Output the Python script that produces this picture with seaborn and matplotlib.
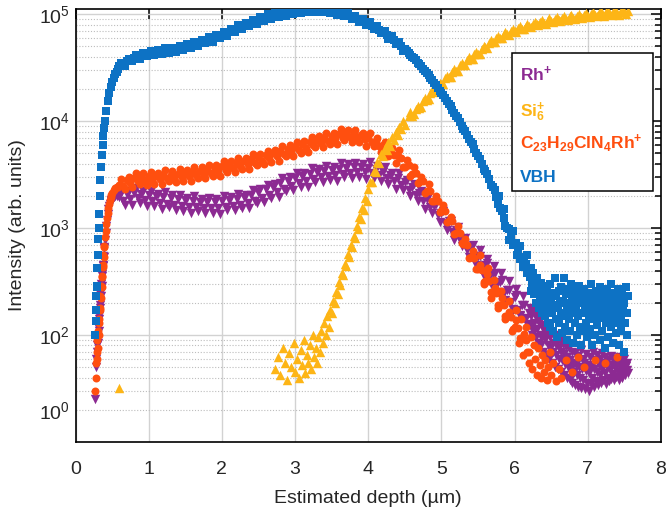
import matplotlib
matplotlib.use("Agg")
import matplotlib.pyplot as plt
import numpy as np
import pandas as pd
import seaborn as sns
from matplotlib.ticker import FixedLocator, FixedFormatter, NullLocator
from matplotlib.patches import Rectangle

# ---------------- data ----------------
# VBH (blue squares)
vbh_depth = [0.27, 0.275, 0.28, 0.285, 0.29, 0.295, 0.30, 0.305, 0.31, 0.315, 0.32, 0.33, 0.34, 0.35, 0.36, 0.37, 0.38, 0.39, 0.40, 0.42, 0.44, 0.46, 0.48, 0.50, 0.52, 0.54, 0.56, 0.58,
             0.60, 0.65, 0.70, 0.75, 0.80, 0.85, 0.90, 0.95, 1.00, 1.05, 1.10, 1.15, 1.20, 1.25, 1.30, 1.35, 1.40, 1.45, 1.50, 1.55, 1.60, 1.65, 1.70, 1.75, 1.80, 1.85, 1.90, 1.95,
             2.00, 2.05, 2.10, 2.15, 2.20, 2.25, 2.30, 2.35, 2.40, 2.45, 2.50, 2.55, 2.60, 2.65, 2.70, 2.75, 2.80, 2.85, 2.90, 2.95, 3.00, 3.05, 3.10, 3.15, 3.20, 3.25, 3.30, 3.35,
             3.40, 3.45, 3.50, 3.55, 3.60, 3.65, 3.70, 3.75, 3.80, 3.85, 3.90, 3.95, 4.00, 4.05, 4.10, 4.15, 4.20, 4.25, 4.30, 4.35, 4.40, 4.45,
             4.50, 4.525, 4.55, 4.575, 4.60, 4.625, 4.65, 4.675, 4.70, 4.725, 4.75, 4.775, 4.80, 4.825, 4.85, 4.875, 4.90, 4.925, 4.95, 4.975, 5.00, 5.025, 5.05, 5.075, 5.10, 5.125,
             5.15, 5.175, 5.20, 5.225, 5.25, 5.275, 5.30, 5.325, 5.35, 5.375, 5.40, 5.425, 5.45, 5.475, 5.50, 5.525, 5.55, 5.575, 5.60, 5.625, 5.65, 5.675, 5.70, 5.725, 5.75, 5.775,
             5.78, 5.80, 5.825, 5.85, 5.86, 5.875, 5.90, 5.92, 5.925, 5.95, 5.975, 5.98, 6.00, 6.025, 6.03, 6.05, 6.075, 6.08, 6.10, 6.12, 6.125, 6.15, 6.17, 6.175, 6.20,
             6.21, 6.22, 6.23, 6.24, 6.25, 6.26, 6.27, 6.28, 6.29, 6.30, 6.31, 6.32, 6.33, 6.34, 6.35, 6.36, 6.37, 6.38, 6.39, 6.40, 6.41, 6.42, 6.43, 6.44, 6.45, 6.46, 6.47, 6.48,
             6.49, 6.50, 6.51, 6.52, 6.53, 6.54, 6.55, 6.56, 6.57, 6.58, 6.59, 6.60, 6.61, 6.62, 6.63, 6.64, 6.65, 6.66, 6.67, 6.68, 6.69, 6.70, 6.71, 6.72, 6.73, 6.74, 6.75, 6.76,
             6.77, 6.78, 6.79, 6.80, 6.81, 6.82, 6.83, 6.84, 6.85, 6.86, 6.87, 6.88, 6.89, 6.90, 6.91, 6.92, 6.93, 6.94, 6.95, 6.96, 6.97, 6.98, 6.99, 7.00, 7.01, 7.02, 7.03, 7.04,
             7.05, 7.06, 7.07, 7.08, 7.09, 7.10, 7.11, 7.12, 7.13, 7.14, 7.15, 7.16, 7.17, 7.18, 7.19, 7.20, 7.21, 7.22, 7.23, 7.24, 7.25, 7.26, 7.27, 7.28, 7.29, 7.30, 7.31, 7.32,
             7.33, 7.34, 7.35, 7.36, 7.37, 7.38, 7.39, 7.40, 7.41, 7.42, 7.43, 7.44, 7.45, 7.46, 7.47, 7.48, 7.49, 7.50, 7.51, 7.52, 7.53, 7.54, 7.55]
vbh_int = [100, 135, 170, 230, 290, 280, 420, 560, 800, 1000, 1350, 2000, 2800, 3700, 4800, 6000, 7300, 8700, 10000, 12500, 15500, 18500, 21000, 23500, 25500, 27500, 29000, 30500,
           32500, 33800, 36200, 37000, 39400, 39800, 41500, 41600, 43400, 43000, 44600, 44200, 45600, 45200, 46500, 46200, 48000, 48200, 50000, 50200, 52000, 52300, 54500, 55200, 57600, 58000, 60500, 61600,
           64500, 65500, 68600, 70000, 73500, 75000, 78600, 80000, 83500, 85000, 88600, 90000, 93500, 94500, 97500, 98500, 101500, 102000, 104500, 104500, 106500, 106500, 108000, 107500, 109000, 108000, 109000, 108000,
           108500, 106500, 106500, 104000, 103500, 100500, 99500, 96000, 94500, 90500, 88500, 84500, 82500, 78000, 75500, 71000, 68500, 64000, 61500, 57000, 54500, 50000,
           47000, 45000, 43500, 41500, 40000, 38800, 37000, 35300, 34000, 32700, 31000, 29300, 28000, 26900, 25500, 24100, 23000, 21900, 20500, 19300, 18500, 17600, 16500, 15300, 14500, 13800,
           12800, 11900, 11200, 10600, 9800, 9000, 8500, 8100, 7400, 6800, 6400, 6100, 5500, 5000, 4700, 4450, 4000, 3600, 3400, 3200, 2900, 2550, 2400, 2250, 1950, 1700,
           2000, 1550, 1450, 1250, 1500, 1050, 1000, 780, 980, 850, 700, 950, 720, 720, 560, 620, 520, 680, 530, 430, 540, 460, 560, 380, 400,
           350, 260, 420, 300, 380, 240, 330, 280, 200, 340, 250, 300, 180, 270, 230, 310, 160, 250, 200, 290, 150, 230, 190, 270, 130, 210, 170, 300,
           120, 220, 160, 250, 110, 190, 340, 140, 230, 95, 180, 260, 130, 200, 150, 280, 105, 210, 160, 340, 120, 240, 180, 90, 270, 140, 200, 110,
           300, 160, 230, 85, 190, 130, 260, 170, 100, 220, 150, 290, 120, 200, 80, 240, 160, 110, 270, 180, 130, 210, 95, 250, 150, 190, 115, 300,
           170, 80, 230, 140, 200, 100, 260, 160, 125, 220, 180, 90, 280, 145, 210, 110, 250, 170, 75, 200, 130, 270, 155, 95, 230, 185, 120, 300,
           160, 85, 210, 140, 250, 105, 190, 130, 270, 165, 80, 220, 150, 110, 240, 180, 70, 200, 130, 280, 160, 100, 230]

# in-between depths (second row of points that gives the bands their width)
mid_depth = [0.625, 0.675, 0.725, 0.775, 0.825, 0.875, 0.925, 0.975, 1.025, 1.075,
             1.125, 1.175, 1.225, 1.275, 1.325, 1.375, 1.425, 1.475, 1.525, 1.575,
             1.625, 1.675, 1.725, 1.775, 1.825, 1.875, 1.925, 1.975, 2.025, 2.075,
             2.125, 2.175, 2.225, 2.275, 2.325, 2.375, 2.425, 2.475, 2.525, 2.575,
             2.625, 2.675, 2.725, 2.775, 2.825, 2.875, 2.925, 2.975, 3.025, 3.075,
             3.125, 3.175, 3.225, 3.275, 3.325, 3.375, 3.425, 3.475, 3.525, 3.575,
             3.625, 3.675, 3.725, 3.775, 3.825, 3.875, 3.925, 3.975, 4.025, 4.075,
             4.125, 4.175, 4.225, 4.275, 4.325, 4.375, 4.425, 4.475, 4.525, 4.575,
             4.625, 4.675, 4.725, 4.775, 4.825, 4.875, 4.925, 4.975, 5.025, 5.075,
             5.125, 5.175, 5.225, 5.275, 5.325, 5.375, 5.425, 5.475, 5.525, 5.575,
             5.625, 5.675, 5.725, 5.775, 5.825, 5.875, 5.925, 5.975, 6.025, 6.075,
             6.125, 6.175]

vbh_mid_int = [35100, 32900, 38400, 36300, 42000, 38200, 43600, 40400, 45800, 41200,
               46600, 42700, 48100, 43100, 48600, 44700, 51000, 46200, 52600, 48500,
               55200, 50200, 57500, 53600, 61300, 55600, 64000, 59900, 68900, 63000,
               72800, 68100, 78700, 72200, 83300, 77600, 89300, 81600, 93800, 87100,
               99600, 90200, 102900, 95000, 107800, 97000, 109700, 100200, 110500, 103000,
               111000, 104000, 111500, 105000, 111500, 104500, 110500, 102500, 108500, 99000,
               107000, 95500, 102600, 90400, 97100, 85000, 90800, 79300, 85000, 72100,
               76900, 66200, 70200, 58900, 62200, 52900, 55300, 45600]

# Rh+ (purple down-triangles)
rh_depth = [0.27, 0.28, 0.285, 0.29, 0.295, 0.30, 0.305, 0.31, 0.315, 0.32, 0.325, 0.33, 0.335, 0.34, 0.345, 0.35, 0.355, 0.36, 0.365, 0.37, 0.375, 0.38, 0.385, 0.39, 0.395,
            0.40, 0.41, 0.42, 0.43, 0.44, 0.45, 0.46, 0.47, 0.48, 0.49, 0.50, 0.52, 0.54, 0.56, 0.58,
            0.60, 0.65, 0.70, 0.75, 0.80, 0.85, 0.90, 0.95, 1.00, 1.05, 1.10, 1.15, 1.20, 1.25, 1.30, 1.35, 1.40, 1.45, 1.50, 1.55, 1.60, 1.65, 1.70, 1.75, 1.80, 1.85, 1.90, 1.95,
            2.00, 2.05, 2.10, 2.15, 2.20, 2.25, 2.30, 2.35, 2.40, 2.45, 2.50, 2.55, 2.60, 2.65, 2.70, 2.75, 2.80, 2.85, 2.90, 2.95, 3.00, 3.05, 3.10, 3.15, 3.20, 3.25, 3.30, 3.35,
            3.40, 3.45, 3.50, 3.55, 3.60, 3.65, 3.70, 3.75, 3.80, 3.85, 3.90, 3.95, 4.00, 4.05, 4.10, 4.15, 4.20, 4.25, 4.30, 4.35, 4.40, 4.45, 4.50, 4.55, 4.60, 4.65, 4.70, 4.75,
            4.80, 4.85, 4.90, 4.95, 5.00, 5.05, 5.10, 5.15, 5.20, 5.25, 5.30, 5.35, 5.40, 5.45, 5.50, 5.55, 5.60, 5.65, 5.70, 5.75, 5.80, 5.85, 5.90, 5.95, 6.00, 6.05, 6.10, 6.15, 6.20,
            5.52, 5.58, 5.62, 5.68, 5.72, 5.78, 5.82, 5.88, 5.92, 5.98, 6.02, 6.08, 6.12, 6.18,
            6.21, 6.22, 6.23, 6.24, 6.25, 6.26, 6.27, 6.28, 6.29, 6.30, 6.31, 6.32, 6.33, 6.34, 6.35, 6.36, 6.37, 6.38, 6.39, 6.40, 6.41, 6.42, 6.43, 6.44, 6.45, 6.46, 6.47, 6.48,
            6.49, 6.50, 6.51, 6.52, 6.53, 6.54, 6.55, 6.56, 6.57, 6.58, 6.59, 6.60, 6.61, 6.62, 6.63, 6.64, 6.65, 6.66, 6.67, 6.68, 6.69, 6.70, 6.71, 6.72, 6.73, 6.74, 6.75, 6.76,
            6.77, 6.78, 6.79, 6.80, 6.81, 6.82, 6.83, 6.84, 6.85, 6.86, 6.87, 6.88, 6.89, 6.90, 6.91, 6.92, 6.93, 6.94, 6.95, 6.96, 6.97, 6.98, 6.99, 7.00, 7.01, 7.02, 7.03, 7.04,
            7.05, 7.06, 7.07, 7.08, 7.09, 7.10, 7.11, 7.12, 7.13, 7.14, 7.15, 7.16, 7.17, 7.18, 7.19, 7.20, 7.21, 7.22, 7.23, 7.24, 7.25, 7.26, 7.27, 7.28, 7.29, 7.30, 7.31, 7.32,
            7.33, 7.34, 7.35, 7.36, 7.37, 7.38, 7.39, 7.40, 7.41, 7.42, 7.43, 7.44, 7.45, 7.46, 7.47, 7.48, 7.49, 7.50, 7.51, 7.52, 7.53, 7.54, 7.55]
rh_int = [25, 50, 60, 80, 70, 95, 85, 120, 110, 150, 140, 190, 180, 240, 230, 300, 290, 370, 360, 450, 440, 550, 540, 660, 650,
          780, 900, 1050, 1200, 1350, 1500, 1600, 1700, 1800, 1850, 1900, 1950, 2000, 2000, 2050,
          1950, 1800, 2100, 1880, 2120, 1900, 2080, 1820, 2050, 1780, 1990, 1720, 1960, 1700, 1900, 1650, 1880, 1620, 1820, 1580, 1790, 1560, 1770, 1540, 1760, 1530, 1770, 1540,
          1790, 1560, 1830, 1600, 1890, 1650, 1960, 1720, 2060, 1800, 2170, 1920, 2300, 2040, 2450, 2180, 2620, 2330, 2780, 2480, 2940, 2620, 3090, 2760, 3220, 2880, 3340, 2990,
          3440, 3080, 3530, 3170, 3610, 3240, 3660, 3290, 3700, 3320, 3720, 3330, 3680, 3280, 3560, 3130, 3380, 2950, 3170, 2740, 2930, 2520, 2680, 2290, 2420, 2050, 2150, 1800,
          1880, 1560, 1620, 1330, 1380, 1120, 1160, 930, 970, 770, 800, 630, 660, 520, 545, 430, 450, 350, 375, 290, 315, 245, 265, 205, 225, 170, 190, 145, 160,
          620, 380, 520, 300, 440, 250, 380, 200, 320, 170, 270, 150, 230, 125,
          180, 120, 150, 100, 170, 130, 110, 155, 95, 140, 115, 85, 130, 100, 150, 80, 120, 95, 70, 125, 90, 110, 65, 100, 80, 120, 60, 95,
          75, 105, 55, 85, 70, 100, 50, 80, 65, 95, 48, 75, 60, 88, 45, 70, 58, 82, 42, 66, 54, 78, 40, 62, 50, 75, 38, 58,
          48, 70, 36, 55, 45, 68, 34, 52, 42, 64, 33, 50, 40, 72, 32, 48, 60, 38, 55, 31, 46, 66, 36, 52, 30, 44, 62, 35,
          50, 40, 70, 33, 48, 58, 37, 45, 65, 34, 52, 42, 60, 36, 48, 68, 38, 55, 44, 62, 35, 50, 40, 58, 37, 47, 64, 39,
          53, 43, 60, 38, 49, 56, 41, 52, 45, 62, 38, 50, 44, 58, 40, 53, 46, 60, 42, 51, 47, 55, 44]
rh_mid_int = [2190, 1660, 2230, 1640, 2390, 1730, 2220, 1625, 2240, 1600,
              2080, 1510, 2180, 1565, 2025, 1480, 2050, 1460, 1905, 1380,
              1995, 1450, 1885, 1385, 1925, 1400, 1855, 1365, 1995, 1475,
              1955, 1465, 2070, 1535, 2060, 1550, 2295, 1725, 2330, 1770,
              2540, 1910, 2595, 1970, 2945, 2225, 3000, 2275, 3255, 2425,
              3275, 2450, 3630, 2705, 3610, 2700, 3815, 2810, 3750, 2780,
              4075, 3000, 3960, 2935, 4105, 2990, 3950, 2875, 4140, 2975,
              3815, 2735, 3705, 2600, 3310, 2325, 3245, 2260, 2835, 1980,
              2615, 1785, 2210, 1510, 2045, 1385, 1680, 1140, 1460, 970,
              1170, 780, 1035, 685, 815, 540, 690, 452, 545, 360,
              475, 315, 380, 255, 330, 215, 265, 175, 235, 155,
              190, 128]

# C23H29ClN4Rh+ (red-orange circles)
c23_depth = [0.27, 0.28, 0.285, 0.29, 0.295, 0.30, 0.305, 0.31, 0.315, 0.32, 0.325, 0.33, 0.335, 0.34, 0.345, 0.35, 0.355, 0.36, 0.365, 0.37, 0.375, 0.38, 0.385, 0.39, 0.395,
             0.40, 0.41, 0.42, 0.43, 0.44, 0.45, 0.46, 0.47, 0.48, 0.49, 0.50, 0.52, 0.54, 0.56, 0.58,
             0.60, 0.65, 0.70, 0.75, 0.80, 0.85, 0.90, 0.95, 1.00, 1.05, 1.10, 1.15, 1.20, 1.25, 1.30, 1.35, 1.40, 1.45, 1.50, 1.55, 1.60, 1.65, 1.70, 1.75, 1.80, 1.85, 1.90, 1.95,
             2.00, 2.05, 2.10, 2.15, 2.20, 2.25, 2.30, 2.35, 2.40, 2.45, 2.50, 2.55, 2.60, 2.65, 2.70, 2.75, 2.80, 2.85, 2.90, 2.95, 3.00, 3.05, 3.10, 3.15, 3.20, 3.25, 3.30, 3.35,
             3.40, 3.45, 3.50, 3.55, 3.60, 3.65, 3.70, 3.75, 3.80, 3.85, 3.90, 3.95, 4.00, 4.05, 4.10, 4.15, 4.20, 4.25, 4.30, 4.35, 4.40,
             4.45, 4.50, 4.55, 4.60, 4.65, 4.70, 4.75, 4.80, 4.85, 4.90, 4.95, 5.00, 5.05, 5.10, 5.15, 5.20, 5.25, 5.30, 5.35, 5.40, 5.45, 5.50, 5.55, 5.60, 5.65, 5.70,
             5.75, 5.80, 5.85, 5.90, 5.95, 6.00, 6.05, 6.10, 6.15, 6.20,
             5.52, 5.58, 5.63, 5.68, 5.72, 5.77, 5.82, 5.87, 5.92, 5.96, 6.02, 6.06, 6.09, 6.12, 6.16, 6.19, 6.22, 6.24, 6.26, 6.28, 6.30, 6.32, 6.34, 6.36, 6.38, 6.40,
             6.42, 6.44, 6.46, 6.48, 6.50, 6.53, 6.56, 6.60, 6.64, 6.70, 6.78, 6.87, 6.95, 7.10, 7.24, 7.40]
c23_int = [30, 55, 40, 70, 60, 90, 75, 110, 100, 140, 130, 180, 170, 230, 220, 290, 280, 360, 350, 450, 430, 560, 540, 680, 660,
           820, 950, 1100, 1250, 1400, 1550, 1700, 1850, 1950, 2050, 2150, 2250, 2350, 2400, 2450,
           2550, 2500, 2800, 2650, 2950, 2750, 3000, 2800, 3050, 2850, 3080, 2880, 3120, 2920, 3170, 2960, 3220, 3000, 3280, 3060, 3360, 3120, 3440, 3200, 3540, 3300, 3650, 3400,
           3780, 3520, 3920, 3650, 4080, 3800, 4250, 3950, 4420, 4100, 4600, 4280, 4800, 4480, 5000, 4680, 5250, 4900, 5500, 5150, 5800, 5400, 6100, 5650, 6400, 5950, 6700, 6250,
           7000, 6500, 7300, 6750, 7600, 7000, 7700, 7100, 7650, 7000, 7400, 6750, 7000, 6400, 6500, 5900, 5950, 5350, 5350, 4800, 4750,
           4550, 3760, 3920, 3200, 3290, 2680, 2760, 2210, 2230, 1790, 1800, 1440, 1450, 1160, 1160, 900, 900, 705, 690, 535, 530, 415, 410, 320, 320, 250,
           245, 193, 190, 150, 148, 118, 117, 91, 90, 70,
           560, 300, 420, 220, 330, 180, 260, 140, 210, 110, 170, 85, 140, 65, 120, 55, 95, 48, 80, 60, 42, 75, 52, 40, 65, 45,
           58, 38, 50, 70, 42, 55, 37, 48, 40, 58, 45, 63, 50, 58, 55, 62]
c23_mid_int = [2880, 2330, 3000, 2410, 3305, 2590, 3250, 2545, 3365, 2610,
               3280, 2580, 3505, 2740, 3435, 2690, 3545, 2765, 3485, 2760,
               3760, 2950, 3720, 2930, 3900, 3060, 3880, 3085, 4235, 3350,
               4240, 3365, 4490, 3540, 4510, 3600, 4940, 3915, 4975, 3950,
               5290, 4170, 5325, 4270, 5885, 4680, 5965, 4765, 6385, 5060,
               6460, 5180, 7165, 5690, 7250, 5765, 7695, 6070, 7730, 6170,
               8470, 6615, 8290, 6415, 8350, 6335, 7780, 5910, 7770, 5805,
               6945, 5155, 6440, 4710, 5585, 4105, 5335, 3735, 4300, 3095,
               3700, 2625, 2990, 2135, 2575, 1810, 2010, 1410, 1645, 1150,
               1275, 885, 1045, 720, 785, 530, 610, 415, 455, 315,
               370, 255, 278, 190, 220, 150, 165, 115, 137, 94,
               102, 70]

# Si6+ (yellow up-triangles)
si6_depth = [0.60,
             2.72, 2.76, 2.80, 2.83, 2.86, 2.89, 2.92, 2.95, 2.98, 3.00, 3.03, 3.05, 3.08, 3.10, 3.12, 3.14, 3.16, 3.18, 3.20, 3.22, 3.24, 3.26, 3.28, 3.30, 3.32, 3.34, 3.36, 3.38,
             3.40, 3.42, 3.44, 3.46,
             3.48, 3.50, 3.52, 3.54, 3.56, 3.58, 3.60, 3.62, 3.64, 3.66, 3.68, 3.70, 3.72, 3.74, 3.76, 3.78, 3.80, 3.82, 3.84, 3.86, 3.88, 3.90, 3.92, 3.94, 3.96, 3.98, 4.00,
             4.025, 4.05, 4.075, 4.10, 4.125, 4.15, 4.175, 4.20, 4.225, 4.25, 4.275, 4.30, 4.325, 4.35, 4.375, 4.40, 4.425, 4.45, 4.475, 4.50,
             4.55, 4.60, 4.65, 4.70, 4.75, 4.80, 4.85, 4.90, 4.95, 5.00, 5.05, 5.10, 5.15, 5.20, 5.25, 5.30, 5.35, 5.40, 5.45, 5.50, 5.55, 5.60, 5.65, 5.70, 5.75, 5.80,
             5.85, 5.90, 5.95, 6.00, 6.05, 6.10, 6.15, 6.20, 6.25, 6.30, 6.35, 6.40, 6.45, 6.50, 6.55, 6.60, 6.65, 6.70, 6.75, 6.80, 6.85, 6.90, 6.95, 7.00, 7.05, 7.10,
             7.15, 7.20, 7.25, 7.30, 7.35, 7.40, 7.45, 7.50, 7.55]
si6_int = [32,
           48, 62, 42, 75, 55, 38, 68, 50, 85, 45, 60, 40, 72, 52, 90, 44, 65, 55, 80, 48, 100, 62, 75, 55, 95, 70, 110, 85,
           130, 100, 150, 120,
           170, 162, 208, 198, 255, 242, 312, 296, 380, 362, 466, 441, 570, 540, 698, 660, 850, 805, 1040, 985, 1270, 1205, 1555, 1475, 1900, 1800, 2300,
           2700, 2730, 3450, 3380, 4190, 4040, 4930, 4700, 5670, 5360, 6360, 5920, 7100, 6670, 7950, 7430, 8900, 8370, 9960, 9300,
           11100, 11200, 13100, 13300, 15500, 15800, 18300, 18900, 21600, 22100, 25200, 25700, 29000, 29500, 33200, 33700, 37600, 38100, 42300, 42800, 47200, 48900, 54000, 54800, 60200, 60300,
           65500, 65200, 70200, 69600, 74500, 73500, 78300, 76900, 81800, 80400, 85000, 83300, 88000, 86000, 90700, 88500, 93100, 90800, 95300, 92900, 97300, 94800, 99200, 96500, 100900, 98200,
           102400, 99800, 103900, 101200, 105200, 102600, 106400, 103900, 107000]
si6_mid_depth = [4.575, 4.625, 4.675, 4.725, 4.775, 4.825, 4.875, 4.925, 4.975, 5.025,
                 5.075, 5.125, 5.175, 5.225, 5.275, 5.325, 5.375, 5.425, 5.475, 5.525,
                 5.575, 5.625, 5.675, 5.725, 5.775, 5.825, 5.875, 5.925, 5.975, 6.025,
                 6.075, 6.125, 6.175, 6.225, 6.275, 6.325, 6.375, 6.425, 6.475, 6.525,
                 6.575, 6.625, 6.675, 6.725, 6.775, 6.825, 6.875, 6.925, 6.975, 7.025,
                 7.075, 7.125, 7.175, 7.225, 7.275, 7.325, 7.375, 7.425, 7.475, 7.525]
si6_mid_int = [12100, 11600, 13900, 13700, 16400, 16200, 19500, 19200, 23000, 22400,
               26700, 25900, 30800, 29700, 35100, 33800, 39700, 38100, 44600, 42800,
               50400, 48700, 57100, 54600, 63200, 59800, 68600, 64300, 73400, 68400,
               77700, 72100, 81500, 75300, 85200, 78600, 88300, 81300, 91400, 83900,
               94100, 86300, 96600, 88400, 98800, 90300, 100800, 92200, 102700, 93800,
               104500, 95300, 106200, 96700, 107600, 98000, 109100, 99300, 110000, 100100]

species_labels = ["Rh+", "C23H29ClN4Rh+", "Si6+", "VBH"]
legend_texts = [r"Rh$^{\mathbf{+}}$", r"Si$_{\mathbf{6}}^{\mathbf{+}}$",
                r"C$_{\mathbf{23}}$H$_{\mathbf{29}}$ClN$_{\mathbf{4}}$Rh$^{\mathbf{+}}$", "VBH"]
x_ticks = [0, 1, 2, 3, 4, 5, 6, 7, 8]

# ---------------- style ----------------
sns.set_style("white")
plt.rcParams["font.family"] = ["Liberation Sans", "DejaVu Sans"]
plt.rcParams["mathtext.fontset"] = "custom"
plt.rcParams["mathtext.rm"] = "Liberation Sans"
plt.rcParams["mathtext.it"] = "Liberation Sans:italic"
plt.rcParams["mathtext.bf"] = "Liberation Sans:bold"
plt.rcParams["mathtext.default"] = "regular"

PURPLE = "#8C2A92"
YELLOW = "#FDB516"
RED = "#FF4F0F"
BLUE = "#0D72C4"

n_vbh_mid = len(vbh_mid_int)
series = [("Rh+", rh_depth + mid_depth, rh_int + rh_mid_int),
          ("C23H29ClN4Rh+", c23_depth + mid_depth, c23_int + c23_mid_int),
          ("Si6+", si6_depth + si6_mid_depth, si6_int + si6_mid_int),
          ("VBH", vbh_depth + mid_depth[:n_vbh_mid], vbh_int + vbh_mid_int)]
frames = [pd.DataFrame({"depth": d, "intensity": v, "species": n}) for n, d, v in series]
df = pd.concat(frames, ignore_index=True)

fig = plt.figure(figsize=(6.66, 5.14), dpi=100)
ax = fig.add_axes([0.1134, 0.14, 0.9925 - 0.1134, 0.9825 - 0.14])
ax.set_yscale("log")

styles = {"Rh+": ("v", PURPLE, 46), "C23H29ClN4Rh+": ("o", RED, 33),
          "Si6+": ("^", YELLOW, 46), "VBH": ("s", BLUE, 28)}
for name in species_labels:
    sub = df[df["species"] == name].sort_values("depth")
    m, c, s = styles[name]
    sns.scatterplot(data=sub, x="depth", y="intensity", marker=m, color=c, s=s,
                    linewidth=0, ax=ax, legend=False, zorder=3)

ax.set_xlim(0, 8)
ax.set_ylim(10, 1.12e5)

ax.xaxis.set_major_locator(FixedLocator(x_ticks))
ax.xaxis.set_major_formatter(FixedFormatter([str(t) for t in x_ticks]))
ax.xaxis.set_minor_locator(NullLocator())

major_y = [1e2, 1e3, 1e4, 1e5]
ax.yaxis.set_major_locator(FixedLocator(major_y))
ax.yaxis.set_major_formatter(FixedFormatter([r"10$^{2}$", r"10$^{3}$", r"10$^{4}$", r"10$^{5}$"]))
minor_y = [k * 10 ** e for e in range(1, 5) for k in range(2, 10)]
ax.yaxis.set_minor_locator(FixedLocator(minor_y))
ax.yaxis.set_minor_formatter(FixedFormatter([r"10$^{0}$" if v == 20 else "" for v in minor_y]))

ax.set_axisbelow(True)
ax.grid(True, which="major", color="#d2d2d2", lw=1.0, ls="-")
ax.grid(True, which="minor", axis="y", color="#bdbdbd", lw=0.8, ls=(0, (1, 1.6)))

for sp in ax.spines.values():
    sp.set_color("black")
    sp.set_linewidth(1.2)

ax.tick_params(which="both", direction="in", top=True, right=True, color="black", width=1.1,
               labelsize=14)
ax.tick_params(which="major", length=7)
ax.tick_params(which="minor", length=4)
ax.tick_params(axis="x", pad=14)
ax.tick_params(axis="y", which="both", pad=4)

ax.set_xlabel("Estimated depth (µm)", fontsize=14, labelpad=8)
ax.set_ylabel("Intensity (arb. units)", fontsize=14, labelpad=9)

# legend box with coloured labels
ax.add_patch(Rectangle((0.7455, 0.5797), 0.2408, 0.3187, transform=ax.transAxes,
                       facecolor="white", edgecolor="black", lw=1.1, zorder=5))
legend_colors = [PURPLE, YELLOW, RED, BLUE]
legend_y = [0.8337, 0.7529, 0.6790, 0.6005]
for t, c, y in zip(legend_texts, legend_colors, legend_y):
    ax.text(0.759, y, t, transform=ax.transAxes, color=c, fontsize=12.5, fontweight="bold",
            va="baseline", ha="left", zorder=6)

fig.savefig("out.png", dpi=100)
